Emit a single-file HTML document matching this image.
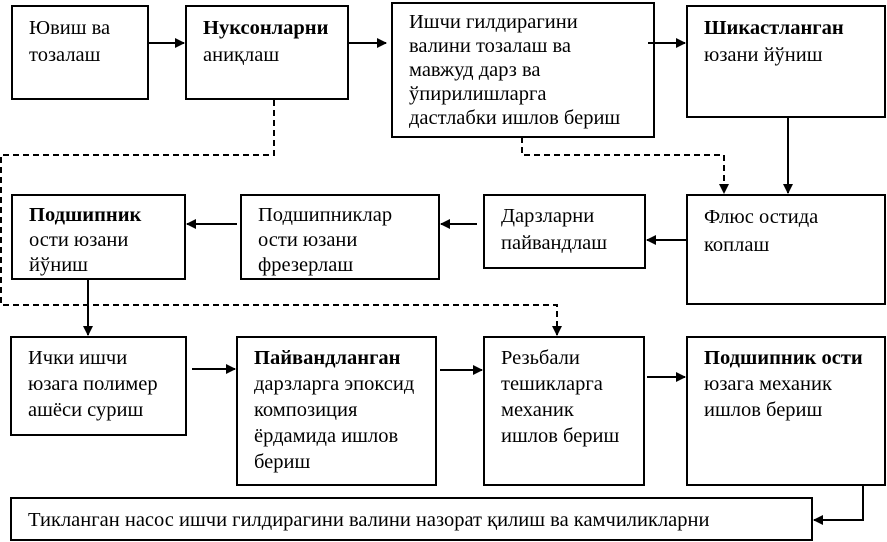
<!DOCTYPE html>
<html><head><meta charset="utf-8"><style>
body{margin:0;width:887px;height:542px;background:#fff;position:relative;overflow:hidden;font-family:"Liberation Serif",serif;font-size:20.5px;color:#000}
.b{position:absolute;border:2px solid #000;box-sizing:border-box;line-height:27px;padding:8px 0 0 16px;white-space:nowrap}
.c{line-height:26px;padding-top:7px}
svg{position:absolute;left:0;top:0}
</style></head><body>
<svg width="887" height="542">
<defs><marker id="a" markerWidth="10" markerHeight="10" refX="9" refY="5" orient="auto" markerUnits="userSpaceOnUse"><path d="M0,0 L10,5 L0,10z"/></marker></defs>
<g stroke="#000" stroke-width="2" fill="none">
<line x1="149" y1="43" x2="184" y2="43" marker-end="url(#a)"/>
<line x1="349" y1="43" x2="386" y2="43" marker-end="url(#a)"/>
<line x1="648" y1="43" x2="685" y2="43" marker-end="url(#a)"/>
<line x1="788" y1="118" x2="788" y2="193" marker-end="url(#a)"/>
<line x1="686" y1="240" x2="647" y2="240" marker-end="url(#a)"/>
<line x1="477" y1="224" x2="441" y2="224" marker-end="url(#a)"/>
<line x1="237" y1="224" x2="187" y2="224" marker-end="url(#a)"/>
<line x1="88" y1="280" x2="88" y2="335" marker-end="url(#a)"/>
<line x1="192" y1="369" x2="235" y2="369" marker-end="url(#a)"/>
<line x1="440" y1="370" x2="482" y2="370" marker-end="url(#a)"/>
<line x1="647" y1="377" x2="685" y2="377" marker-end="url(#a)"/>
<polyline points="863,486 863,520 814,520" marker-end="url(#a)"/>
<g stroke-dasharray="6,4">
<polyline points="274,100 274,155 1,155 1,305 557,305 557,335" marker-end="url(#a)"/>
<polyline points="522,137 522,155 724,155 724,193" marker-end="url(#a)"/>
</g></g></svg>
<div class="b" style="left:11px;top:5px;width:138px;height:95px">Ювиш ва<br>тозалаш</div>
<div class="b" style="left:185px;top:5px;width:164px;height:95px"><b>Нуксонларни</b><br>аниқлаш</div>
<div class="b" style="left:391px;top:2px;width:264px;height:136px;padding-top:6px;line-height:24px">Ишчи гилдирагини<br>валини тозалаш ва<br>мавжуд дарз ва<br>ўпирилишларга<br>дастлабки ишлов бериш</div>
<div class="b" style="left:686px;top:5px;width:200px;height:113px"><b>Шикастланган</b><br>юзани йўниш</div>
<div class="b" style="left:686px;top:194px;width:200px;height:111px;padding-top:7px;line-height:28px">Флюс остида<br>коплаш</div>
<div class="b" style="left:483px;top:194px;width:163px;height:75px;padding-top:7px">Дарзларни<br>пайвандлаш</div>
<div class="b" style="left:240px;top:194px;width:200px;height:86px;padding-top:7px;line-height:25px">Подшипниклар<br>ости юзани<br>фрезерлаш</div>
<div class="b" style="left:11px;top:194px;width:175px;height:86px;padding-top:7px;line-height:25px"><b>Подшипник</b><br>ости юзани<br>йўниш</div>
<div class="b c" style="left:10px;top:336px;width:177px;height:100px">Ички ишчи<br>юзага полимер<br>ашёси суриш</div>
<div class="b c" style="left:236px;top:336px;width:201px;height:150px"><b>Пайвандланган</b><br>дарзларга эпоксид<br>композиция<br>ёрдамида ишлов<br>бериш</div>
<div class="b c" style="left:483px;top:336px;width:162px;height:150px">Резьбали<br>тешикларга<br>механик<br>ишлов бериш</div>
<div class="b c" style="left:686px;top:336px;width:200px;height:150px"><b>Подшипник ости</b><br>юзага механик<br>ишлов бериш</div>
<div class="b" style="left:10px;top:497px;width:803px;height:44px;padding-top:8px;line-height:26px">Тикланган насос ишчи гилдирагини валини назорат қилиш ва камчиликларни</div>
</body></html>
